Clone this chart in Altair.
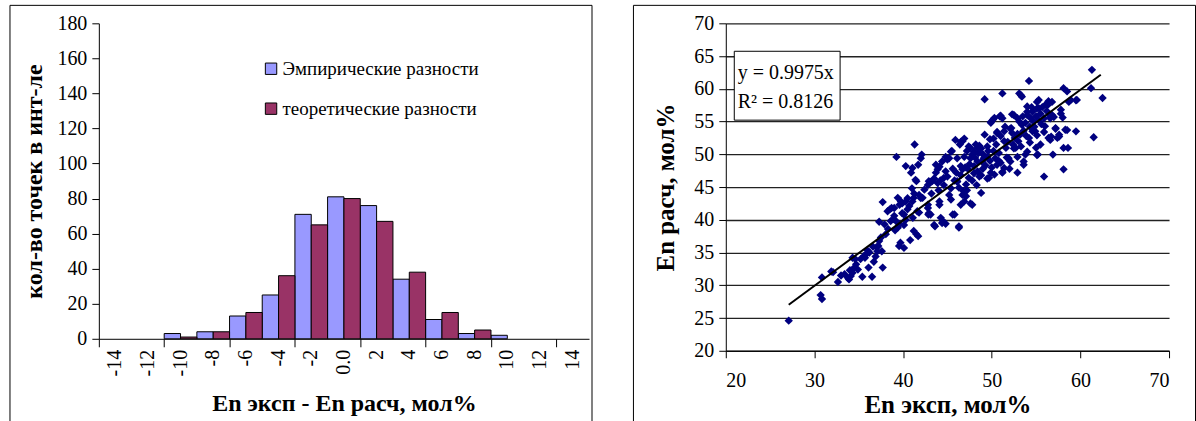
import altair as alt
import pandas as pd

FONT = "Liberation Serif"

# ---------------- Left panel data (histogram of differences) ----------------
bin_centers = [-14, -12, -10, -8, -6, -4, -2, 0, 2, 4, 6, 8, 10, 12, 14]
bin_labels = ["-14", "-12", "-10", "-8", "-6", "-4", "-2", "0.0", "2", "4", "6", "8", "10", "12", "14"]
empirical = [0, 0, 3, 4, 13, 25, 71, 81, 76, 34, 11, 3, 2, 0, 0]
theoretical = [0, 0, 1, 4, 15, 36, 65, 80, 67, 38, 15, 5, 0, 0, 0]
series_names = ["Эмпирические разности", "теоретические разности"]
series_colors = ["#9999FF", "#993366"]
bin_width = 2

# ---------------- Right panel data (scatter) ----------------
en_exp = [
    27.1, 30.7, 30.85, 30.85, 31.9, 32.1, 32.65, 33.4, 33.8, 34.1, 34.3, 34.5, 34.7, 34.3, 34.6, 34.9, 33.9,
    35.4, 35.6, 35.8, 36.0, 35.7, 36.1, 36.5, 36.7, 37.1, 37.2, 37.3, 37.3, 37.0, 37.6, 37.7, 37.7,
    37.9, 38.05, 38.5, 38.7, 38.25, 38.6, 39.0, 39.2, 39.1, 39.4, 39.0, 39.6, 39.25, 39.4, 39.6, 39.55,
    39.7, 39.75, 39.9, 40.1, 40.1, 40.1, 40.3, 40.3, 40.5, 40.5, 40.8, 40.9, 41.05, 41.05, 41.2, 41.1,
    41.2, 41.5, 41.7, 41.3, 41.5, 41.7, 41.8, 41.8, 41.6, 41.25, 41.4, 42.1, 42.0, 42.2, 42.0,
    42.8, 42.85, 43.1, 42.9, 43.3, 42.8, 42.9, 42.8, 43.6, 43.7, 43.7, 43.9, 43.9, 44.1, 43.5, 43.1, 43.5,
    44.25, 44.5, 44.8, 44.6, 44.8, 44.1, 44.4, 44.8, 44.6, 44.1, 44.4, 45.0, 45.2, 45.2, 45.4, 45.5,
    45.8, 45.4, 45.4, 45.8, 45.6, 45.9, 46.1, 46.3, 46.3, 46.4, 46.7, 46.5, 46.7, 46.1, 46.1, 46.5,
    46.5, 46.5, 46.3, 46.8, 47.1, 46.9, 47.1, 47.4, 46.9, 46.9, 46.7, 47.3, 47.6, 47.8, 47.8, 47.4,
    47.6, 47.6, 48.2, 48.4, 48.4, 48.6, 48.8, 48.0, 48.4, 48.0, 48.8, 48.9, 49.1, 49.2, 49.5, 49.6,
    49.7, 49.9, 48.8, 49.5, 49.5, 49.9, 50.15, 50.4, 50.6, 50.6, 49.9, 50.3, 50.6, 50.9, 51.2, 51.2,
    51.2, 51.4, 51.4, 51.6, 51.0, 51.4, 51.8, 51.2, 51.9, 52.1, 52.2, 52.3, 52.5, 52.7, 52.9, 52.3,
    52.1, 52.5, 52.0, 52.9, 52.9, 52.9, 53.1, 53.4, 53.1, 53.4, 53.6, 53.8, 53.3, 53.6, 53.6, 54.0,
    54.2, 54.2, 54.4, 54.6, 54.9, 54.0, 54.6, 54.0, 55.2, 55.3, 55.3, 55.5, 55.1, 55.1, 55.5, 55.1,
    55.1, 55.9, 55.9, 55.9, 56.1, 56.4, 56.4, 56.7, 56.6, 56.8, 56.9, 56.3, 56.8, 56.5, 56.6, 57.2,
    57.4, 57.6, 57.8, 57.0, 57.2, 57.6, 58.1, 58.1, 58.1, 58.3, 58.5, 58.6, 58.9, 58.0, 57.8, 58.7,
    58.5, 59.5, 59.6, 59.5, 61.2, 61.3, 61.5, 62.5,
    53.0, 53.5, 53.8, 54.3, 54.7, 55.0, 54.5, 55.6, 53.2, 54.8, 55.3, 56.0, 52.6, 53.9, 54.3, 55.0,
    53.3, 54.0, 55.7, 56.2,
    47.0, 47.5, 48.1, 48.5, 49.0, 49.3, 49.8, 50.2, 50.5, 50.8, 48.0, 47.2, 48.6, 49.0, 50.0, 50.8,
    47.8, 48.3, 47.2, 46.0, 45.6, 45.0, 44.2, 43.2, 44.0, 42.4, 41.0, 40.7, 39.9, 38.9, 38.3, 40.3,
    37.5, 36.6, 36.2, 35.2, 34.0, 33.0, 36.9,
    51.5, 51.0, 50.2, 49.8, 49.2, 51.7, 52.4, 50.3, 51.0,
]
en_calc = [
    24.6, 28.5, 27.9, 31.2, 32.1, 32.0, 30.5, 31.7, 31.1, 31.4, 31.9, 32.7, 33.2, 34.2, 34.0, 32.4, 30.9,
    31.3, 34.5, 34.7, 35.3, 34.2, 32.7, 31.3, 33.6, 35.2, 36.0, 36.75, 39.7, 35.8, 35.2, 32.7, 42.7,
    39.3, 37.8, 41.6, 41.8, 41.3, 39.8, 40.6, 39.8, 38.4, 38.8, 41.8, 39.3, 49.6, 43.35, 42.3, 36.0,
    36.5, 42.8, 41.0, 39.2, 35.7, 40.8, 48.2, 42.8, 41.6, 43.3, 36.9, 47.2, 47.9, 42.8, 43.35, 40.3,
    38.3, 37.8, 37.5, 51.5, 45.9, 48.4, 43.8, 41.1, 41.3, 44.0, 46.1, 49.95, 49.4, 43.35, 43.3,
    41.8, 40.8, 40.8, 45.9, 45.9, 42.3, 41.0, 45.3, 39.0, 48.4, 47.2, 47.7, 45.6, 42.8, 46.3, 45.8, 39.2,
    40.3, 39.8, 39.4, 46.4, 47.4, 48.1, 48.9, 49.6, 45.3, 42.3, 39.5, 49.2, 49.4, 43.8, 43.1, 50.5,
    40.8, 50.4, 44.8, 46.0, 40.8, 52.2, 45.9, 44.9, 38.8, 51.5, 52.0, 48.2, 47.7, 49.4, 45.8, 46.8,
    51.9, 42.3, 39.0, 44.4, 43.6, 42.8, 45.4, 46.4, 49.6, 52.4, 43.8, 47.8, 50.97, 49.95, 42.3, 51.2,
    49.4, 42.5, 51.5, 50.97, 47.4, 46.6, 44.1, 50.4, 48.9, 47.1, 46.8, 48.9, 49.4, 58.4, 51.2, 50.5,
    46.4, 47.2, 50.9, 49.6, 46.3, 54.8, 55.3, 49.4, 48.4, 53.25, 54.95, 55.56, 53.4, 55.8, 55.5, 59.3,
    47.2, 47.9, 52.0, 50.97, 55.9, 53.5, 51.9, 47.3, 49.4, 48.9, 54.0, 53.25, 56.0, 50.97, 47.2, 56.1,
    53.9, 50.9, 47.8, 49.6, 55.5, 53.1, 59.3, 58.8, 55.0, 54.5, 48.4, 49.95, 59.0, 53.6, 48.9, 56.5,
    61.2, 52.5, 55.5, 56.5, 53.5, 50.4, 53.5, 56.0, 49.95, 58.3, 57.05, 51.5, 58.0, 57.0, 56.2, 52.9,
    49.9, 55.5, 53.4, 46.6, 57.6, 58.1, 52.5, 52.7, 55.5, 56.0, 49.95, 57.5, 58.0, 56.0, 52.2, 54.0,
    52.5, 53.0, 56.8, 55.7, 53.9, 52.7, 60.1, 50.97, 47.7, 53.75, 59.6, 50.97, 58.3, 55.6, 56.2, 58.0,
    53.7, 53.5, 58.3, 58.25, 60.1, 62.9, 52.6, 58.6,
    52.0, 55.8, 54.8, 54.2, 55.0, 55.8, 57.2, 54.6, 53.0, 54.2, 55.2, 54.3, 52.5, 52.8, 51.8, 51.0,
    51.2, 57.3, 57.2, 56.6,
    48.0, 48.5, 49.5, 50.2, 50.0, 48.3, 49.0, 50.5, 51.5, 50.2, 48.2, 50.5, 51.3, 47.8, 48.0, 49.0,
    46.0, 45.3, 44.5, 47.2, 47.8, 46.6, 46.0, 44.0, 44.5, 44.6, 44.8, 42.1, 42.5, 40.1, 38.6, 40.0,
    37.3, 35.9, 35.0, 34.0, 32.3, 31.5, 34.4,
    54.2, 52.8, 52.4, 52.3, 53.0, 49.5, 51.5, 46.9, 48.7,
]
slope = 0.9975
r_squared = 0.8126
trend_x = [27.1, 62.3]
eq_text = f"y = {slope}x"
r2_text = f"R² = {r_squared}"

# ---------------- Tables ----------------
rows = []
for i, name in enumerate(series_names):
    vals = empirical if i == 0 else theoretical
    for c, v in zip(bin_centers, vals):
        if v > 0:
            x0 = c - bin_width / 2 + i * bin_width / 2
            rows.append({"x0": x0, "x1": x0 + bin_width / 2, "count": v, "base": 0, "series": name})
bars_df = pd.DataFrame(rows)
labels_df = pd.DataFrame({"center": bin_centers, "label": bin_labels})
scatter_df = pd.DataFrame({"exp": en_exp, "calc": en_calc})
trend_df = pd.DataFrame({"exp": trend_x, "calc": [slope * v for v in trend_x]})
one = pd.DataFrame({"a": [0]})

# ---------------- Left panel ----------------
LW, LH = 491, 316
xs = alt.Scale(domain=[-15, 15], nice=False, zero=False)
ys = alt.Scale(domain=[0, 180], nice=False)

bars = alt.Chart(bars_df).mark_rect(stroke="black", strokeWidth=1).encode(
    x=alt.X("x0:Q", scale=xs, axis=alt.Axis(values=list(range(-15, 16, 2)), labels=False, grid=False,
                                             tickSize=8, title="En эксп - En расч, мол%", titlePadding=44,
                                             titleFontSize=24)),
    x2="x1:Q",
    y=alt.Y("count:Q", scale=ys, axis=alt.Axis(values=list(range(0, 181, 20)), grid=False, tickSize=7,
                                               labelPadding=5, title="кол-во точек в инт-ле", titlePadding=10,
                                               titleFontSize=24)),
    y2="base:Q",
    color=alt.Color("series:N", scale=alt.Scale(domain=series_names, range=series_colors),
                    legend=alt.Legend(title=None, orient="none", legendX=163, legendY=36,
                                      symbolType="square", symbolSize=130, symbolStrokeColor="black",
                                      symbolStrokeWidth=1, labelLimit=500,
                                      labelFont=FONT, labelFontSize=19, rowPadding=20, labelOffset=2)),
)
xlabels = alt.Chart(labels_df).mark_text(angle=270, align="right", baseline="middle",
                                         font=FONT, fontSize=20).encode(
    x=alt.X("center:Q", scale=xs), y=alt.value(LH + 11), text="label:N")

fl1 = alt.Chart(one).mark_rule(color="black").encode(x=alt.value(-89), y=alt.value(-18), y2=alt.value(399))
fl2 = alt.Chart(one).mark_rule(color="black").encode(x=alt.value(-89), x2=alt.value(494), y=alt.value(-18))
fl3 = alt.Chart(one).mark_rule(color="black").encode(x=alt.value(494), y=alt.value(-18), y2=alt.value(399))

left = alt.layer(bars, xlabels, fl1, fl2, fl3).properties(width=LW, height=LH)

# ---------------- Right panel ----------------
RW, RH = 444, 328
sx = alt.Scale(domain=[20, 70], nice=False, zero=False)
sy = alt.Scale(domain=[20, 70], nice=False, zero=False)
x_axis_r = alt.Axis(values=list(range(20, 71, 10)), grid=False, tickSize=7, labelPadding=13,
                    title="En эксп, мол%", titlePadding=2, titleFontSize=25)
y_axis_r = alt.Axis(values=list(range(20, 71, 5)), grid=True, gridColor="#222", gridWidth=1.3, tickSize=7,
                    labelPadding=5, labelOverlap=False, title="En расч, мол%", titlePadding=15, titleFontSize=25)

pts = alt.Chart(scatter_df).mark_point(shape="diamond", filled=True, color="#000080", size=70, opacity=1).encode(
    x=alt.X("exp:Q", scale=sx, axis=x_axis_r),
    y=alt.Y("calc:Q", scale=sy, axis=y_axis_r),
)
trend = alt.Chart(trend_df).mark_line(color="black", strokeWidth=2).encode(
    x=alt.X("exp:Q", scale=sx, axis=x_axis_r), y=alt.Y("calc:Q", scale=sy, axis=y_axis_r))
box = alt.Chart(one).mark_rect(fill="white", stroke="black", strokeWidth=1).encode(
    x=alt.value(8.5), x2=alt.value(114.5), y=alt.value(28), y2=alt.value(97))
ann1 = alt.Chart(one).mark_text(align="left", baseline="middle", font=FONT, fontSize=20, text=eq_text).encode(
    x=alt.value(12), y=alt.value(50))
ann2 = alt.Chart(one).mark_text(align="left", baseline="middle", font=FONT, fontSize=20, text=r2_text).encode(
    x=alt.value(12), y=alt.value(79))

fr1 = alt.Chart(one).mark_rule(color="black").encode(x=alt.value(-92.5), y=alt.value(-18), y2=alt.value(399))
fr2 = alt.Chart(one).mark_rule(color="black").encode(x=alt.value(-92.5), x2=alt.value(470.5), y=alt.value(-18))
fr3 = alt.Chart(one).mark_rule(color="black").encode(x=alt.value(470.5), y=alt.value(-18), y2=alt.value(399))

right = alt.layer(pts, trend, box, ann1, ann2, fr1, fr2, fr3).properties(width=RW, height=RH)

chart = alt.hconcat(left, right, spacing=40).properties(
    padding={"left": 9, "top": 4, "right": 0, "bottom": 0}, background="white"
).configure_view(stroke=None).configure_axis(
    labelFont=FONT, labelFontSize=20, labelColor="black", titleFont=FONT,
    titleFontWeight="bold", titleColor="black", domainColor="black", tickColor="black",
    domainWidth=1, tickWidth=1
)

chart.save("out.html", embed_options={"renderer": "svg", "actions": False})
